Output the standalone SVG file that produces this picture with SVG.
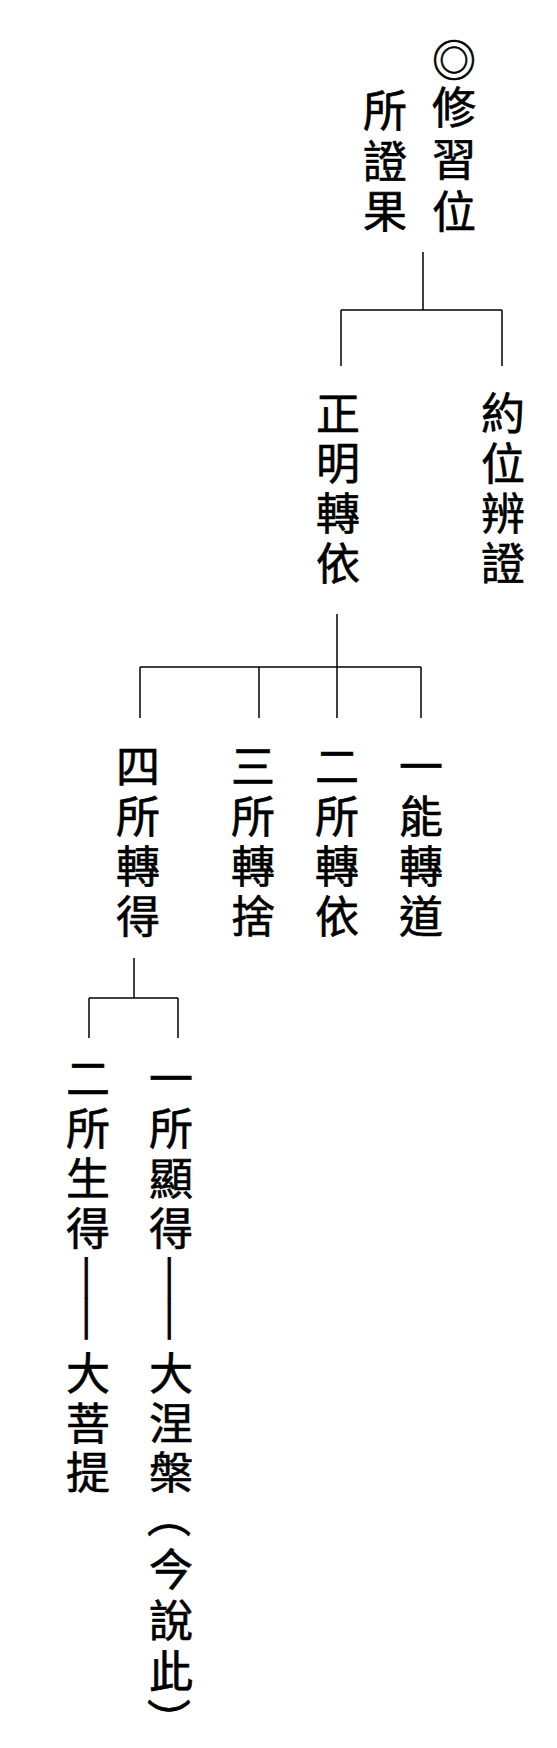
<svg xmlns="http://www.w3.org/2000/svg" width="557" height="1748" viewBox="0 0 557 1748">
<style>
.t{font-family:"Noto Sans CJK TC","Noto Sans CJK SC",sans-serif;font-size:44px;fill:#000;stroke:#000;stroke-width:0.6;text-anchor:middle}
.r{font-family:"Noto Sans CJK TC","Noto Sans CJK SC",sans-serif;font-size:44px;fill:#000;stroke:#000;stroke-width:0.6;text-anchor:middle;dominant-baseline:central}
.d{font-family:"Noto Sans CJK TC","Noto Sans CJK SC",sans-serif;font-size:40px;fill:#000;stroke:#000;stroke-width:0.8;text-anchor:middle;dominant-baseline:central}
.c line{stroke:#000;stroke-width:1.5;fill:none}
</style>
<rect width="557" height="1748" fill="#fff"/>
<g class="c" id="connectors">
<line x1="423" y1="252" x2="423" y2="310"/>
<line x1="341" y1="310" x2="502" y2="310"/>
<line x1="341" y1="310" x2="341" y2="366"/>
<line x1="502" y1="310" x2="502" y2="366"/>
<line x1="337" y1="614" x2="337" y2="718"/>
<line x1="140" y1="667" x2="421" y2="667"/>
<line x1="140" y1="667" x2="140" y2="718"/>
<line x1="259" y1="667" x2="259" y2="718"/>
<line x1="421" y1="667" x2="421" y2="718"/>
<line x1="134" y1="958" x2="134" y2="998"/>
<line x1="89" y1="998" x2="178" y2="998"/>
<line x1="89" y1="998" x2="89" y2="1038"/>
<line x1="178" y1="998" x2="178" y2="1038"/>
</g>
<g id="n-xiuxiwei">
<text class="t"><tspan x="454" y="77">◎</tspan><tspan x="454" y="124">修</tspan><tspan x="454" y="176">習</tspan><tspan x="454" y="228">位</tspan></text>
</g>
<g id="n-suozhengguo">
<text class="t"><tspan x="385" y="127">所</tspan><tspan x="385" y="178">證</tspan><tspan x="385" y="228">果</tspan></text>
</g>
<g id="n-zhengmingzhuanyi">
<text class="t"><tspan x="338" y="430">正</tspan><tspan x="338" y="480">明</tspan><tspan x="338" y="530">轉</tspan><tspan x="338" y="580">依</tspan></text>
</g>
<g id="n-yueweibianzheng">
<text class="t"><tspan x="503" y="430">約</tspan><tspan x="503" y="480">位</tspan><tspan x="503" y="530">辨</tspan><tspan x="503" y="580">證</tspan></text>
</g>
<g id="n-si">
<text class="t"><tspan x="138" y="783">四</tspan><tspan x="138" y="833">所</tspan><tspan x="138" y="883">轉</tspan><tspan x="138" y="933">得</tspan></text>
</g>
<g id="n-san">
<text class="t"><tspan x="253" y="783">三</tspan><tspan x="253" y="833">所</tspan><tspan x="253" y="883">轉</tspan><tspan x="253" y="933">捨</tspan></text>
</g>
<g id="n-er">
<text class="t"><tspan x="337" y="783">二</tspan><tspan x="337" y="833">所</tspan><tspan x="337" y="883">轉</tspan><tspan x="337" y="933">依</tspan></text>
</g>
<g id="n-yi">
<text class="t"><tspan x="421" y="783">一</tspan><tspan x="421" y="833">能</tspan><tspan x="421" y="883">轉</tspan><tspan x="421" y="933">道</tspan></text>
</g>
<g id="n-suoshengde">
<text class="t"><tspan x="88" y="1095">二</tspan><tspan x="88" y="1145">所</tspan><tspan x="88" y="1195">生</tspan><tspan x="88" y="1245">得</tspan></text>
<text class="d" transform="translate(92,1278) rotate(90) scale(1.27,1)">—</text>
<text class="d" transform="translate(92,1319) rotate(90) scale(1.27,1)">—</text>
<text class="t"><tspan x="88" y="1390">大</tspan><tspan x="88" y="1440">菩</tspan><tspan x="88" y="1489">提</tspan></text>
</g>
<g id="n-suoxiande">
<text class="t"><tspan x="171" y="1095">一</tspan><tspan x="171" y="1145">所</tspan><tspan x="171" y="1195">顯</tspan><tspan x="171" y="1245">得</tspan></text>
<text class="d" transform="translate(175,1278) rotate(90) scale(1.27,1)">—</text>
<text class="d" transform="translate(175,1319) rotate(90) scale(1.27,1)">—</text>
<text class="t"><tspan x="171" y="1390">大</tspan><tspan x="171" y="1440">涅</tspan><tspan x="171" y="1489">槃</tspan></text>
<text class="r" transform="translate(171,1516) rotate(90)">（</text>
<text class="t"><tspan x="171" y="1586">今</tspan><tspan x="171" y="1637">說</tspan><tspan x="171" y="1688">此</tspan></text>
<text class="r" transform="translate(171,1720) rotate(90)">）</text>
</g>
</svg>
